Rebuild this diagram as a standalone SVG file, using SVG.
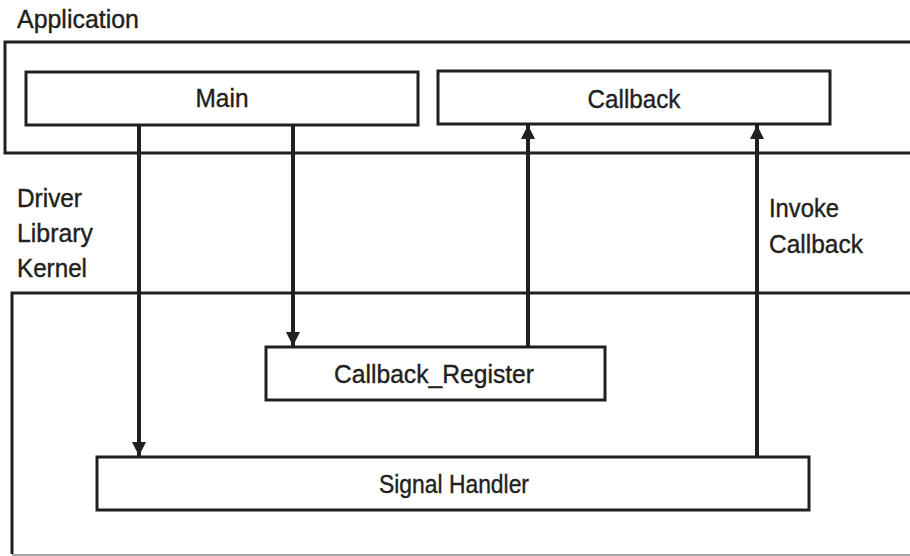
<svg xmlns="http://www.w3.org/2000/svg" width="910" height="556" viewBox="0 0 910 556">
<style>
  .frame { fill: none; stroke: #231f20; stroke-width: 3; }
  .box { fill: #ffffff; stroke: #231f20; stroke-width: 3; }
  .conn { fill: none; stroke: #231f20; stroke-width: 4; marker-end: url(#arrow); }
  text { font-family: "Liberation Sans", Arial, sans-serif; font-size: 26px; fill: #231f20; stroke: #231f20; stroke-width: 0.4; }
  .c { text-anchor: middle; }
</style>
<defs>
  <marker id="arrow" markerUnits="userSpaceOnUse" markerWidth="14" markerHeight="14" refX="14" refY="7" orient="auto">
    <path d="M0,0 L14,7 L0,14 z" fill="#231f20"/>
  </marker>
</defs>

<g id="application">
  <path class="frame" d="M910,42 H5 V153 H910"/>
  <text x="17" y="28" textLength="122" lengthAdjust="spacingAndGlyphs">Application</text>
</g>

<g id="kernel">
  <path class="frame" d="M910,293 H12 V554"/>
  <line x1="12" y1="555" x2="910" y2="555" stroke="#8a8a8a" stroke-width="1.5"/>
  <text x="17" y="207" textLength="65" lengthAdjust="spacingAndGlyphs">Driver</text>
  <text x="17" y="242" textLength="76" lengthAdjust="spacingAndGlyphs">Library</text>
  <text x="17" y="277" textLength="70" lengthAdjust="spacingAndGlyphs">Kernel</text>
</g>

<g id="main">
  <rect class="box" x="26" y="72" width="392" height="53"/>
  <text class="c" x="222" y="107" textLength="53" lengthAdjust="spacingAndGlyphs">Main</text>
</g>

<g id="callback">
  <rect class="box" x="438" y="71" width="392" height="53"/>
  <text class="c" x="634" y="108" textLength="93" lengthAdjust="spacingAndGlyphs">Callback</text>
</g>

<g id="callback_register">
  <rect class="box" x="266" y="347" width="339" height="53"/>
  <text class="c" x="434" y="383" textLength="200" lengthAdjust="spacingAndGlyphs">Callback_Register</text>
</g>

<g id="signal_handler">
  <rect class="box" x="97" y="457" width="712" height="53"/>
  <text class="c" x="454" y="493" textLength="150" lengthAdjust="spacingAndGlyphs">Signal Handler</text>
</g>

<g id="connectors">
  <line class="conn" x1="139" y1="126" x2="139" y2="456"/>
  <line class="conn" x1="293" y1="126" x2="293" y2="346"/>
  <line class="conn" x1="528" y1="346" x2="528" y2="125"/>
  <line class="conn" x1="757" y1="456" x2="757" y2="125"/>
  <text x="769" y="217" textLength="70" lengthAdjust="spacingAndGlyphs">Invoke</text>
  <text x="769" y="253" textLength="94" lengthAdjust="spacingAndGlyphs">Callback</text>
</g>
</svg>
